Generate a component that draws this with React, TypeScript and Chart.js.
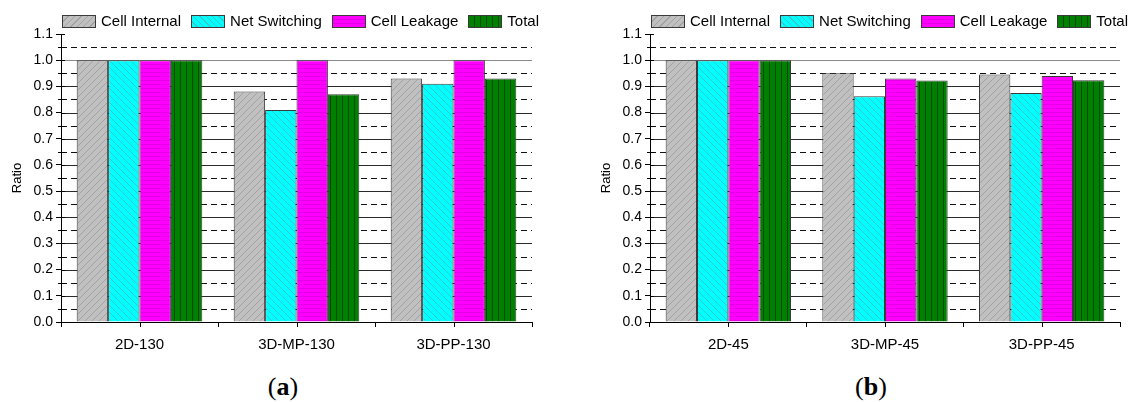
import React, { useEffect, useRef } from "react";
import { Chart, registerables } from "chart.js";

Chart.register(...registerables);

const seriesNames = ["Cell Internal", "Net Switching", "Cell Leakage", "Total"];

const categoriesA = ["2D-130", "3D-MP-130", "3D-PP-130"];
const cellInternalA = [1.0, 0.88, 0.93];
const netSwitchingA = [1.0, 0.81, 0.91];
const cellLeakageA = [1.0, 1.0, 1.0];
const totalA = [1.0, 0.87, 0.93];

const categoriesB = ["2D-45", "3D-MP-45", "3D-PP-45"];
const cellInternalB = [1.0, 0.95, 0.945];
const netSwitchingB = [1.0, 0.862, 0.875];
const cellLeakageB = [1.0, 0.93, 0.94];
const totalB = [1.0, 0.922, 0.923];

const yMin = 0;
const yMax = 1.1;
const yStep = 0.1;
const yMinorStep = 0.05;

const FONT = "'Liberation Sans', Arial, sans-serif";

type Kind = "slash" | "backslash" | "horizontal" | "vertical";
const swatches: { bg: string; line: string; kind: Kind }[] = [
  { bg: "#c0c0c0", line: "#a2a2a2", kind: "slash" },
  { bg: "#00ffff", line: "#3cc8c8", kind: "backslash" },
  { bg: "#ff00ff", line: "#e400e4", kind: "horizontal" },
  { bg: "#008000", line: "#004a00", kind: "vertical" },
];

function makePattern(bg: string, line: string, kind: Kind): CanvasPattern | string {
  const size = kind === "horizontal" ? 4 : kind === "vertical" ? 6 : 7;
  const c = document.createElement("canvas");
  c.width = size;
  c.height = size;
  const g = c.getContext("2d");
  if (!g) return bg;
  g.fillStyle = bg;
  g.fillRect(0, 0, size, size);
  g.strokeStyle = line;
  g.lineWidth = 1;
  g.beginPath();
  if (kind === "slash") {
    g.moveTo(-1, size + 1);
    g.lineTo(size + 1, -1);
    g.moveTo(-1, 1);
    g.lineTo(1, -1);
    g.moveTo(size - 1, size + 1);
    g.lineTo(size + 1, size - 1);
  } else if (kind === "backslash") {
    g.moveTo(-1, -1);
    g.lineTo(size + 1, size + 1);
    g.moveTo(size - 1, -1);
    g.lineTo(size + 1, 1);
    g.moveTo(-1, size - 1);
    g.lineTo(1, size + 1);
  } else if (kind === "horizontal") {
    g.moveTo(0, 0.5);
    g.lineTo(size, 0.5);
  } else {
    g.moveTo(0.5, 0);
    g.lineTo(0.5, size);
  }
  g.stroke();
  const p = g.createPattern(c, "repeat");
  return p || bg;
}

function cssPattern(i: number): string {
  const s = swatches[i];
  if (s.kind === "slash")
    return `repeating-linear-gradient(135deg, ${s.bg} 0px, ${s.bg} 3.5px, ${s.line} 3.5px, ${s.line} 4.5px)`;
  if (s.kind === "backslash")
    return `repeating-linear-gradient(45deg, ${s.bg} 0px, ${s.bg} 3.5px, ${s.line} 3.5px, ${s.line} 4.5px)`;
  if (s.kind === "horizontal")
    return `repeating-linear-gradient(0deg, ${s.bg} 0px, ${s.bg} 3px, ${s.line} 3px, ${s.line} 4px)`;
  return `repeating-linear-gradient(90deg, ${s.bg} 0px, ${s.bg} 5px, ${s.line} 5px, ${s.line} 6px)`;
}

const gridPlugin = {
  id: "refGrid",
  beforeDatasetsDraw(chart: any) {
    const ctx = chart.ctx;
    const y = chart.scales.y;
    const { left, right } = chart.chartArea;
    const n = Math.round((yMax - yMin) / yMinorStep);
    ctx.save();
    for (let i = 1; i < n; i++) {
      const v = yMin + i * yMinorStep;
      const py = Math.round(y.getPixelForValue(v)) + 0.5;
      ctx.beginPath();
      if (i % 2 === 0) {
        ctx.setLineDash([]);
        ctx.strokeStyle = Math.abs(v - 1) < 1e-6 ? "#8a8a8a" : "#2a2a2a";
      } else {
        ctx.setLineDash([6, 4]);
        ctx.strokeStyle = "#111";
      }
      ctx.lineWidth = 1;
      ctx.moveTo(left, py);
      ctx.lineTo(right, py);
      ctx.stroke();
    }
    ctx.restore();
  },
  afterDraw(chart: any) {
    const ctx = chart.ctx;
    const y = chart.scales.y;
    const x = chart.scales.x;
    const { left, bottom } = chart.chartArea;
    const n = Math.round((yMax - yMin) / yMinorStep);
    ctx.save();
    ctx.strokeStyle = "#000";
    ctx.lineWidth = 1;
    ctx.beginPath();
    for (let i = 0; i <= n; i++) {
      const py = Math.round(y.getPixelForValue(yMin + i * yMinorStep)) + 0.5;
      if (i % 2 === 0) {
        ctx.moveTo(left, py);
        ctx.lineTo(left + 4, py);
      } else {
        ctx.moveTo(left - 3, py);
        ctx.lineTo(left + 4, py);
      }
    }
    const labels = chart.data.labels || [];
    for (let i = 0; i < labels.length; i++) {
      const px = Math.round(x.getPixelForValue(i)) + 0.5;
      ctx.moveTo(px, bottom);
      ctx.lineTo(px, bottom + 5);
    }
    ctx.stroke();
    ctx.restore();
  },
};

function BarPanel(props: {
  left: number;
  width: number;
  padRight: number;
  categories: string[];
  series: number[][];
}) {
  const ref = useRef<HTMLCanvasElement | null>(null);
  useEffect(() => {
    if (!ref.current) return;
    const datasets = props.series.map((vals, i) => ({
      label: seriesNames[i],
      data: vals,
      backgroundColor: makePattern(swatches[i].bg, swatches[i].line, swatches[i].kind),
      borderColor: "#3a3a3a",
      borderWidth: 1,
      categoryPercentage: 0.8,
      barPercentage: 1.0,
    }));
    const chart = new Chart(ref.current, {
      type: "bar",
      data: { labels: props.categories, datasets: datasets as any },
      plugins: [gridPlugin as any],
      options: {
        animation: false,
        responsive: false,
        devicePixelRatio: 1,
        layout: { padding: { top: 34, right: props.padRight, bottom: 0, left: 0 } },
        plugins: { legend: { display: false }, tooltip: { enabled: false } },
        scales: {
          x: {
            grid: { offset: true, drawOnChartArea: false, tickLength: 5, color: "#000" },
            border: { color: "#000", width: 1 },
            ticks: { color: "#000", font: { family: FONT, size: 15 }, padding: 9 },
            afterFit: (s: any) => {
              s.height = 40;
            },
          },
          y: {
            min: yMin,
            max: yMax,
            grid: { drawOnChartArea: false, tickLength: 5, color: "#000" },
            border: { color: "#000", width: 1 },
            ticks: {
              stepSize: yStep,
              color: "#000",
              font: { family: FONT, size: 14 },
              padding: 3,
              callback: (v: any) => Number(v).toFixed(1),
            },
            title: {
              display: true,
              text: "Ratio",
              color: "#000",
              font: { family: FONT, size: 13 },
              padding: { top: 10, bottom: 0 },
            },
            afterFit: (s: any) => {
              s.width = 61;
            },
          },
        },
      },
    });
    return () => chart.destroy();
  }, []);
  return (
    <canvas
      ref={ref}
      width={props.width}
      height={362}
      style={{ position: "absolute", left: props.left, top: 0, width: props.width, height: 362 }}
    />
  );
}

function Legend(props: { left: number }) {
  return (
    <div
      style={{
        position: "absolute",
        left: props.left,
        top: 12,
        display: "flex",
        alignItems: "center",
        fontFamily: FONT,
        fontSize: 15,
        color: "#000",
        whiteSpace: "nowrap",
        lineHeight: "18px",
      }}
    >
      {seriesNames.map((name, i) => (
        <div key={name} style={{ display: "flex", alignItems: "center", marginRight: 10 }}>
          <div
            style={{
              width: 32,
              height: 11,
              border: "1px solid #3a3a3a",
              backgroundColor: swatches[i].bg,
              backgroundImage: cssPattern(i),
              marginRight: 5,
            }}
          />
          <span>{name}</span>
        </div>
      ))}
    </div>
  );
}

function PanelLabel(props: { center: number; letter: string }) {
  return (
    <div
      style={{
        position: "absolute",
        left: props.center - 40,
        width: 80,
        top: 372,
        textAlign: "center",
        fontFamily: "'Liberation Serif', 'Times New Roman', serif",
        fontSize: 26,
        lineHeight: "30px",
        color: "#000",
      }}
    >
      (<b>{props.letter}</b>)
    </div>
  );
}

export default function App() {
  return (
    <div style={{ position: "absolute", left: 0, top: 0, width: 1137, height: 402, background: "#fff", overflow: "hidden" }}>
      <BarPanel
        left={0}
        width={548}
        padRight={16}
        categories={categoriesA}
        series={[cellInternalA, netSwitchingA, cellLeakageA, totalA]}
      />
      <BarPanel
        left={589}
        width={548}
        padRight={17}
        categories={categoriesB}
        series={[cellInternalB, netSwitchingB, cellLeakageB, totalB]}
      />
      <Legend left={62} />
      <Legend left={651} />
      <PanelLabel center={283} letter="a" />
      <PanelLabel center={871} letter="b" />
    </div>
  );
}
